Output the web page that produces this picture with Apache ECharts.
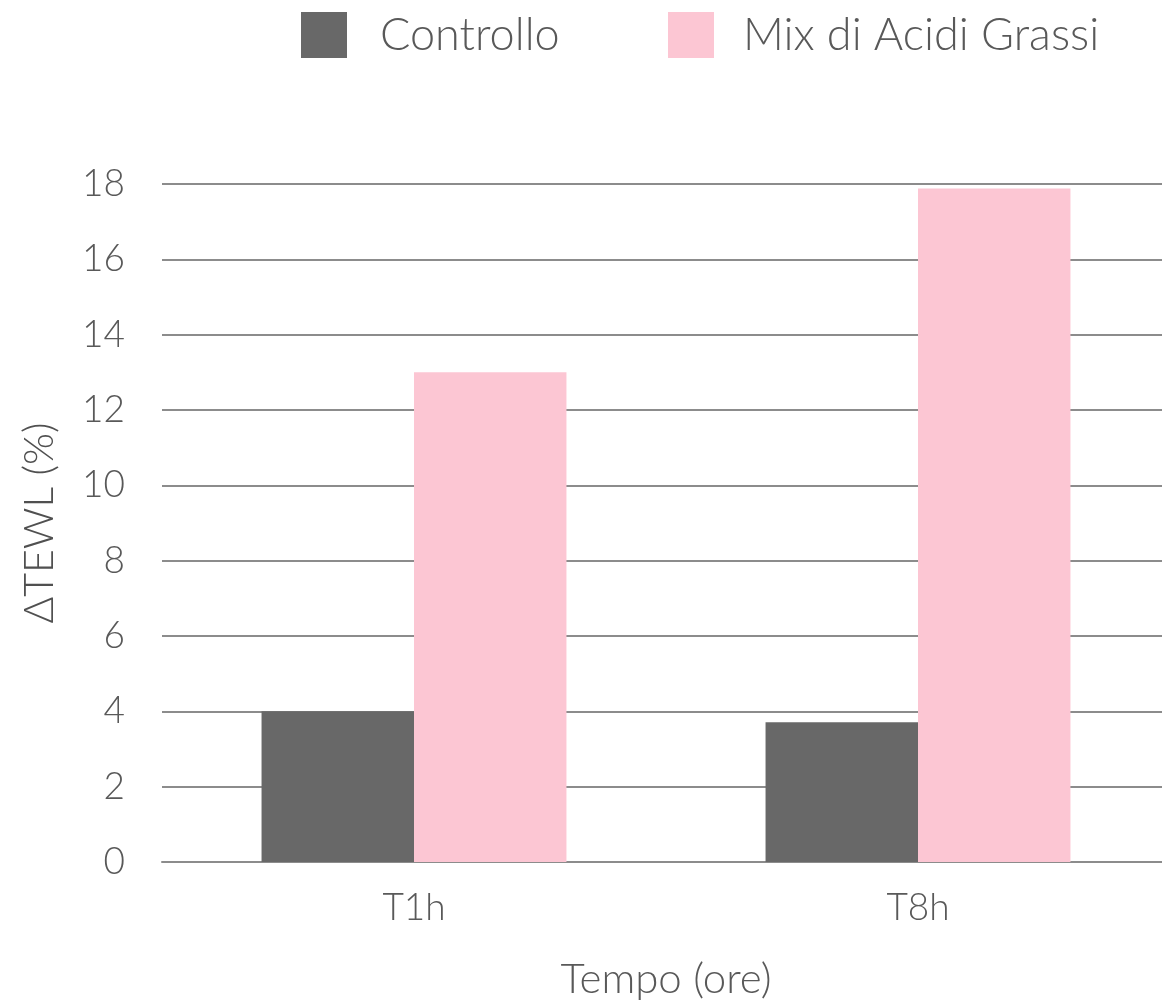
<!DOCTYPE html>
<html>
<head>
<meta charset="utf-8">
<script src="https://cdn.jsdelivr.net/npm/echarts@6/dist/echarts.min.js"></script>
<style>
html,body{margin:0;padding:0;background:#fff;}
#chart{width:1162px;height:1002px;}
</style>
</head>
<body>
<div id="chart"></div>
<script>
var categories = ['T1h', 'T8h'];
var controllo = [4.0, 3.71];
var mixAcidi = [13.0, 17.88];
var yTicks = [0, 2, 4, 6, 8, 10, 12, 14, 16, 18];

var FONT = 'Lato';
var TXT = '#595959';
var chart = echarts.init(document.getElementById('chart'));
chart.setOption({
  backgroundColor: '#fff',
  animation: false,
  legend: [
    {
      left: 301, top: 12, padding: 0,
      itemWidth: 46, itemHeight: 46, icon: 'rect',
      data: ['Controllo'],
      textStyle: {fontFamily: FONT, fontWeight: 300, fontSize: 45, color: TXT, padding: [0, 0, 0, 28]}
    },
    {
      left: 668, top: 12, padding: 0,
      itemWidth: 46, itemHeight: 46, icon: 'rect',
      data: ['Mix di Acidi Grassi'],
      textStyle: {fontFamily: FONT, fontWeight: 300, fontSize: 45, color: TXT, padding: [0, 0, 0, 24]}
    }
  ],
  grid: {left: 162, right: -8, top: 184, bottom: 140, containLabel: false, outerBoundsMode: 'none'},
  xAxis: {
    type: 'category',
    data: categories,
    axisTick: {show: false},
    axisLine: {show: true, lineStyle: {color: '#8c8c8c', width: 2}},
    axisLabel: {fontFamily: FONT, fontWeight: 300, fontSize: 37, color: TXT, margin: 28},
    name: 'Tempo (ore)',
    nameLocation: 'middle',
    nameGap: 96,
    nameTextStyle: {fontFamily: FONT, fontWeight: 300, fontSize: 42, color: TXT}
  },
  yAxis: {
    type: 'value',
    min: yTicks[0],
    max: yTicks[yTicks.length - 1],
    interval: 2,
    axisLine: {show: false},
    axisTick: {show: false},
    splitLine: {show: true, lineStyle: {color: '#8c8c8c', width: 2}},
    axisLabel: {fontFamily: FONT, fontWeight: 300, fontSize: 37, color: TXT, margin: 37},
    name: 'ΔTEWL (%)',
    nameLocation: 'middle',
    nameGap: 102,
    nameRotate: 90,
    nameTextStyle: {fontFamily: FONT, fontWeight: 300, fontSize: 41, color: '#505050'}
  },
  series: [
    {
      name: 'Controllo', type: 'bar', data: controllo,
      itemStyle: {color: '#686868'},
      barGap: '0%', barCategoryGap: '39.5%'
    },
    {
      name: 'Mix di Acidi Grassi', type: 'bar', data: mixAcidi,
      itemStyle: {color: '#fcc6d3'},
      barGap: '0%', barCategoryGap: '39.5%'
    }
  ]
});
</script>
</body>
</html>
